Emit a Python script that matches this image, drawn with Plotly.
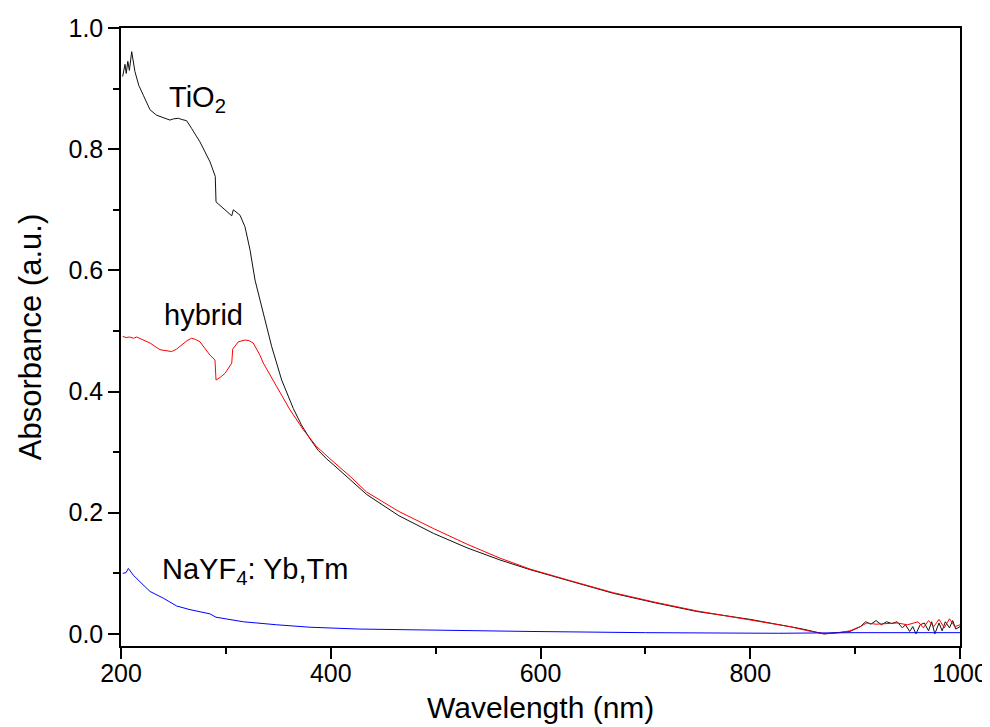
import plotly.graph_objects as go

# TiO2 (black)
tio2_x = [201.6, 203.8, 205.0, 206.5, 208.0, 210.2, 213.3, 217.0, 221.3, 227.7, 234.0, 240.0,
          246.7, 250.0, 254.6, 258.0, 262.6, 267.4, 275.3, 284.9, 289.9, 290.6, 297.6, 305.6,
          307.1, 313.5, 318.2, 323.0, 327.8, 335.7, 343.7, 353.2, 364.3, 372.0, 380.2, 388.0,
          396.0, 404.0, 416.7, 434.3, 465.0, 497.8, 530.0, 561.4, 590.0, 630.0, 669.4, 710.0,
          748.9, 799.7, 826.7, 850.0, 870.0, 885.0, 895.0, 905.0, 910.0, 915.0, 920.0, 925.0,
          930.0, 935.0, 940.0, 945.0, 948.0, 952.0, 955.0, 958.0, 962.0, 966.0, 970.0, 973.0,
          976.0, 980.0, 983.0, 986.0, 990.0, 993.0, 996.0, 1000.0]
tio2_y = [0.920, 0.940, 0.925, 0.945, 0.930, 0.961, 0.928, 0.905, 0.889, 0.865, 0.856, 0.852,
          0.848, 0.850, 0.851, 0.849, 0.847, 0.834, 0.812, 0.779, 0.755, 0.713, 0.702, 0.690,
          0.700, 0.691, 0.672, 0.634, 0.584, 0.529, 0.474, 0.419, 0.372, 0.345, 0.322, 0.303,
          0.289, 0.277, 0.257, 0.230, 0.195, 0.166, 0.142, 0.122, 0.106, 0.086, 0.067, 0.051,
          0.037, 0.024, 0.016, 0.008, 0.000, 0.002, 0.004, 0.012, 0.020, 0.016, 0.022, 0.015,
          0.020, 0.017, 0.020, 0.010, 0.015, 0.004, 0.012, 0.000, 0.015, 0.018, 0.005, 0.020,
          0.000, 0.018, 0.005, 0.020, 0.010, 0.022, 0.008, 0.012]

# hybrid (red)
hyb_x = [201.6, 205.0, 208.0, 212.0, 215.0, 220.0, 227.7, 237.2, 243.0, 248.3, 253.0, 257.9,
         263.0, 267.4, 271.0, 275.3, 280.0, 284.9, 289.6, 290.6, 295.0, 299.2, 305.6, 306.5,
         311.8, 318.2, 322.0, 326.1, 332.5, 335.7, 348.5, 361.1, 373.8, 386.6, 399.3, 418.4,
         434.3, 465.0, 497.8, 530.0, 561.4, 590.0, 630.0, 669.4, 710.0, 748.9, 799.7, 837.8,
         855.0, 871.2, 885.0, 895.0, 905.0, 911.0, 920.0, 930.0, 940.0, 950.0, 955.0, 960.0,
         965.0, 970.0, 975.0, 980.0, 985.0, 990.0, 995.0, 1000.0]
hyb_y = [0.491, 0.489, 0.490, 0.488, 0.490, 0.486, 0.480, 0.469, 0.467, 0.466, 0.470, 0.477,
         0.484, 0.488, 0.486, 0.482, 0.472, 0.460, 0.452, 0.419, 0.424, 0.430, 0.447, 0.470,
         0.482, 0.485, 0.484, 0.480, 0.460, 0.447, 0.408, 0.370, 0.337, 0.309, 0.289, 0.260,
         0.234, 0.202, 0.174, 0.148, 0.125, 0.107, 0.087, 0.068, 0.052, 0.038, 0.023, 0.012,
         0.005, 0.000, 0.002, 0.005, 0.012, 0.018, 0.016, 0.017, 0.018, 0.015, 0.018, 0.020,
         0.010, 0.022, 0.012, 0.024, 0.010, 0.025, 0.012, 0.015]

# NaYF4: Yb,Tm (blue)
nay_x = [201.6, 204.8, 207.0, 211.7, 218.1, 227.7, 240.3, 253.1, 265.8, 284.9, 290.6, 316.6,
         348.5, 380.2, 426.3, 500.0, 590.0, 700.0, 826.7, 900.0, 1000.0]
nay_y = [0.100, 0.101, 0.108, 0.097, 0.086, 0.070, 0.059, 0.046, 0.040, 0.033, 0.0275, 0.020,
         0.015, 0.011, 0.008, 0.006, 0.004, 0.002, 0.001, 0.002, 0.002]

x_ticks = [200, 400, 600, 800, 1000]
y_ticks = [0.0, 0.2, 0.4, 0.6, 0.8, 1.0]
x_title = "Wavelength (nm)"
y_title = "Absorbance (a.u.)"

FONT = "Liberation Sans, Arial, sans-serif"

fig = go.Figure()
fig.add_trace(go.Scatter(x=tio2_x, y=tio2_y, mode="lines", line=dict(color="#111111", width=1), name="TiO2"))
fig.add_trace(go.Scatter(x=hyb_x, y=hyb_y, mode="lines", line=dict(color="#ff0000", width=1), name="hybrid"))
fig.add_trace(go.Scatter(x=nay_x, y=nay_y, mode="lines", line=dict(color="#0000ff", width=1), name="NaYF4"))

ann_font = dict(family=FONT, size=29, color="#000000")
fig.add_annotation(x=243.6, y=0.883, text="TiO<sub>2</sub>", showarrow=False, xanchor="left", yanchor="middle", font=ann_font)
fig.add_annotation(x=238.8, y=0.527, text="hybrid", showarrow=False, xanchor="left", yanchor="middle", font=ann_font)
fig.add_annotation(x=237.2, y=0.103, text="NaYF<sub>4</sub>: Yb,Tm", showarrow=False, xanchor="left", yanchor="middle", font=ann_font)

# x-axis title as a paper-anchored annotation so it sits fully inside the page
fig.add_annotation(x=0.5, y=0, xref="paper", yref="paper", text=x_title, showarrow=False,
                   xanchor="center", yanchor="middle", yshift=-61,
                   font=dict(family=FONT, size=30, color="#000000"))

axis_common = dict(showline=True, linecolor="#000000", linewidth=1.5, mirror=True, showgrid=False,
                   zeroline=False, ticks="outside", ticklen=11, tickwidth=1.5, tickcolor="#000000",
                   tickfont=dict(family=FONT, size=25, color="#000000"))

fig.update_layout(
    width=990, height=727,
    margin=dict(l=113, r=38, t=20, b=89, autoexpand=False),
    paper_bgcolor="white", plot_bgcolor="white",
    showlegend=False,
    font=dict(family=FONT, color="#000000"),
    xaxis=dict(range=[200, 1000], tickvals=x_ticks, ticktext=[str(v) for v in x_ticks],
               ticklabelstandoff=-7,
               minor=dict(dtick=100, ticks="outside", ticklen=6, tickwidth=1.5, tickcolor="#000000"),
               **axis_common),
    yaxis=dict(range=[-0.02, 1.0], tickvals=y_ticks, ticktext=[f"{v:.1f}" for v in y_ticks],
               title=dict(text=y_title, font=dict(family=FONT, size=31), standoff=18),
               minor=dict(dtick=0.1, tick0=0, ticks="outside", ticklen=6, tickwidth=1.5, tickcolor="#000000"),
               **axis_common),
)

fig.write_html("out.html")
